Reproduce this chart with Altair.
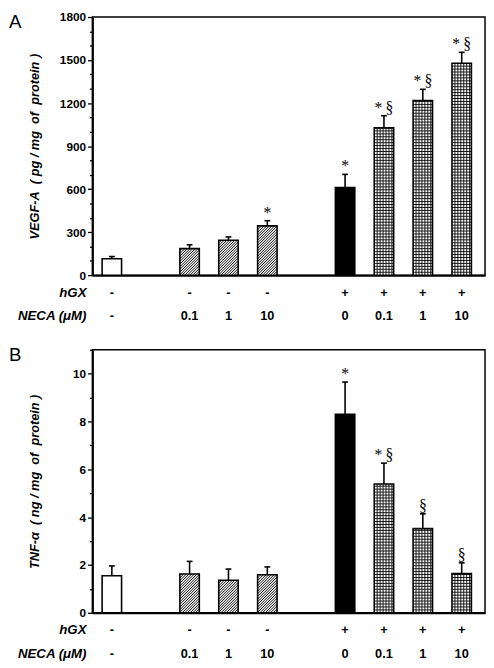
import altair as alt
import pandas as pd

# ---------------- data ----------------
positions = [0, 2, 3, 4, 6, 7, 8, 9]
kinds = ["open", "hatch", "hatch", "hatch", "solid", "cross", "cross", "cross"]
hgx = ["-", "-", "-", "-", "+", "+", "+", "+"]
neca = ["-", "0.1", "1", "10", "0", "0.1", "1", "10"]
row_labels = ["hGX", "NECA (\u03bcM)"]

vegf = [115, 185, 243, 344, 611, 1027, 1218, 1478]
vegf_sem = [15, 27, 24, 36, 92, 85, 78, 76]
vegf_notes = ["", "", "", "*", "*", "*\u2009\u00a7", "*\u2009\u00a7", "*\u2009\u00a7"]
vegf_ticks = list(range(0, 1801, 100))
vegf_major = 300

tnf = [1.55, 1.62, 1.36, 1.59, 8.30, 5.39, 3.52, 1.64]
tnf_sem = [0.41, 0.53, 0.47, 0.33, 1.35, 0.87, 0.62, 0.45]
tnf_notes = ["", "", "", "", "*", "*\u2009\u00a7", "\u00a7", "\u00a7"]
tnf_ticks = list(range(0, 12))
tnf_major = 2

# ---------------- layout / style ----------------
W = 400
XDOM = [-0.5, 9.6]
BW = 0.5
FONT = "Liberation Sans"
SERIF = "Liberation Serif"


def panel(letter, H, values, sems, notes, ymax, ticks, major, title):
    df = pd.DataFrame({"pos": positions, "kind": kinds, "value": values,
                       "sem": sems, "note": notes, "hgx": hgx, "neca": neca})
    pxx = W / (XDOM[1] - XDOM[0])
    pxy = H / ymax
    bw_px = BW * pxx
    d = bw_px / pxy            # rise (y units) across bar width at 45 deg
    sh = 2.7 / pxy             # hatch spacing in y units
    sy = 3.0 / pxy             # grid spacing in y units
    st = 3.0 / bw_px           # grid spacing in bar-width fraction

    xs = alt.Scale(domain=XDOM, nice=False, zero=False)
    ys = alt.Scale(domain=[0, ymax], nice=False, zero=True)

    xaxis = alt.Axis(domain=True, domainColor="black", domainWidth=2,
                     ticks=False, labels=False, title=None, grid=False)
    yaxis = alt.Axis(
        orient="left", values=ticks, format="d",
        labelExpr=f"datum.value % {major} === 0 ? datum.label : ''",
        tickSize={"condition": {"test": f"datum.value % {major} === 0", "value": 5}, "value": 3},
        tickColor="black", tickWidth=1.3, domainColor="black", domainWidth=2,
        labelFont=FONT, labelFontWeight="bold", labelFontSize=12, labelColor="black",
        labelPadding=2, grid=False,
        title=title, titleFont=FONT, titleFontStyle="italic", titleFontWeight="bold",
        titleFontSize=13, titleColor="black", titleX=-52, titleY=H / 2,
        titleAngle=-90, titleAlign="center", titleBaseline="bottom")

    def X(f):
        return alt.X(f, scale=xs, axis=xaxis)

    def Y(f):
        return alt.Y(f, scale=ys, axis=yaxis)

    base = alt.Chart(df).transform_calculate(
        x0=f"datum.pos - {BW/2}", x1=f"datum.pos + {BW/2}",
        top="datum.value + datum.sem", zero="0")

    fills = base.mark_rect().encode(
        x=X("x0:Q"), x2="x1:Q", y=Y("value:Q"), y2="zero:Q",
        fill=alt.Fill("kind:N", scale=alt.Scale(
            domain=["open", "hatch", "solid", "cross"],
            range=["white", "white", "black", "white"]), legend=None))

    hatch = base.transform_filter("datum.kind == 'hatch'").transform_calculate(
        s=f"sequence({-d + sh/2}, datum.value, {sh})").transform_flatten(["s"]).transform_calculate(
        t0=f"max(0, -datum.s / {d})").transform_calculate(
        t1=f"min(1, (datum.value - datum.s) / {d})").transform_filter(
        "datum.t1 > datum.t0").transform_calculate(
        hx=f"datum.x0 + datum.t0 * {BW}").transform_calculate(
        hx2=f"datum.x0 + datum.t1 * {BW}").transform_calculate(
        hy=f"datum.s + {d} * datum.t0").transform_calculate(
        hy2=f"datum.s + {d} * datum.t1").mark_rule(
        color="black", strokeWidth=1.0).encode(
        x=X("hx:Q"), x2="hx2:Q", y=Y("hy:Q"), y2="hy2:Q")

    vlines = base.transform_filter("datum.kind == 'cross'").transform_calculate(
        t=f"sequence({st}, 0.999, {st})").transform_flatten(["t"]).transform_calculate(
        vx=f"datum.x0 + datum.t * {BW}").mark_rule(
        color="black", strokeWidth=0.9).encode(
        x=X("vx:Q"), y=Y("zero:Q"), y2="value:Q")

    hlines = base.transform_filter("datum.kind == 'cross'").transform_calculate(
        s=f"sequence({sy}, datum.value, {sy})").transform_flatten(["s"]).mark_rule(
        color="black", strokeWidth=0.9).encode(
        x=X("x0:Q"), x2="x1:Q", y=Y("s:Q"))

    outline = base.mark_rect(fillOpacity=0, stroke="black", strokeWidth=1.6).encode(
        x=X("x0:Q"), x2="x1:Q", y=Y("value:Q"), y2="zero:Q")

    err = base.mark_rule(color="black", strokeWidth=1.6).encode(
        x=X("pos:Q"), y=Y("value:Q"), y2="top:Q")

    cap = base.transform_calculate(c0="datum.pos - 0.075", c1="datum.pos + 0.075").mark_rule(
        color="black", strokeWidth=1.6).encode(
        x=X("c0:Q"), x2="c1:Q", y=Y("top:Q"))

    note = base.mark_text(font=SERIF, fontSize=16, baseline="bottom", dy=0,
                          fill="black", color="black").encode(
        x=X("pos:Q"), y=Y("top:Q"), text="note:N")

    row1 = base.mark_text(font=FONT, fontWeight="bold", fontSize=13, baseline="middle",
                          fill="black").encode(
        x=X("pos:Q"), y=alt.value(H + 18), text="hgx:N")
    row2 = base.mark_text(font=FONT, fontWeight="bold", fontSize=13, baseline="middle",
                          fill="black").encode(
        x=X("pos:Q"), y=alt.value(H + 42), text="neca:N")

    head1 = alt.Chart(pd.DataFrame({"label": [row_labels[0]]})).mark_text(
        font=FONT, fontWeight="bold", fontStyle="italic", fontSize=13.5, align="right",
        baseline="middle", fill="black").encode(
        x=alt.value(-6), y=alt.value(H + 18), text="label:N")
    head2 = alt.Chart(pd.DataFrame({"label": [row_labels[1]]})).mark_text(
        font=FONT, fontWeight="bold", fontStyle="italic", fontSize=13.5, align="right",
        baseline="middle", fill="black").encode(
        x=alt.value(-6), y=alt.value(H + 42), text="label:N")

    lett = alt.Chart(pd.DataFrame({"label": [letter]})).mark_text(
        font=FONT, fontSize=19, align="left", baseline="top", fill="black").encode(
        x=alt.value(-85), y=alt.value(-4), text="label:N")

    return alt.layer(fills, hatch, vlines, hlines, outline, err, cap, note,
                     row1, row2, head1, head2, lett).properties(width=W, height=H)


NB = "\u00a0"
pa = panel("A", 263, vegf, vegf_sem, vegf_notes, 1800, vegf_ticks, vegf_major,
           f"VEGF-A{NB} ({NB}pg{NB}/{NB}mg{NB}{NB}of{NB}{NB}protein{NB})")
pb = panel("B", 268, tnf, tnf_sem, tnf_notes, 11, tnf_ticks, tnf_major,
           f"TNF-\u03b1{NB} ({NB}ng{NB}/{NB}mg{NB}{NB}of{NB}{NB}protein{NB})")

chart = alt.vconcat(pa, pb, spacing=21).properties(
    padding={"top": -4, "left": 0, "right": 0, "bottom": 0}).configure(
    font=FONT, background="white").configure_view(stroke="black", strokeWidth=1.5)

chart.save("out.html", embed_options={"renderer": "svg", "actions": False})
